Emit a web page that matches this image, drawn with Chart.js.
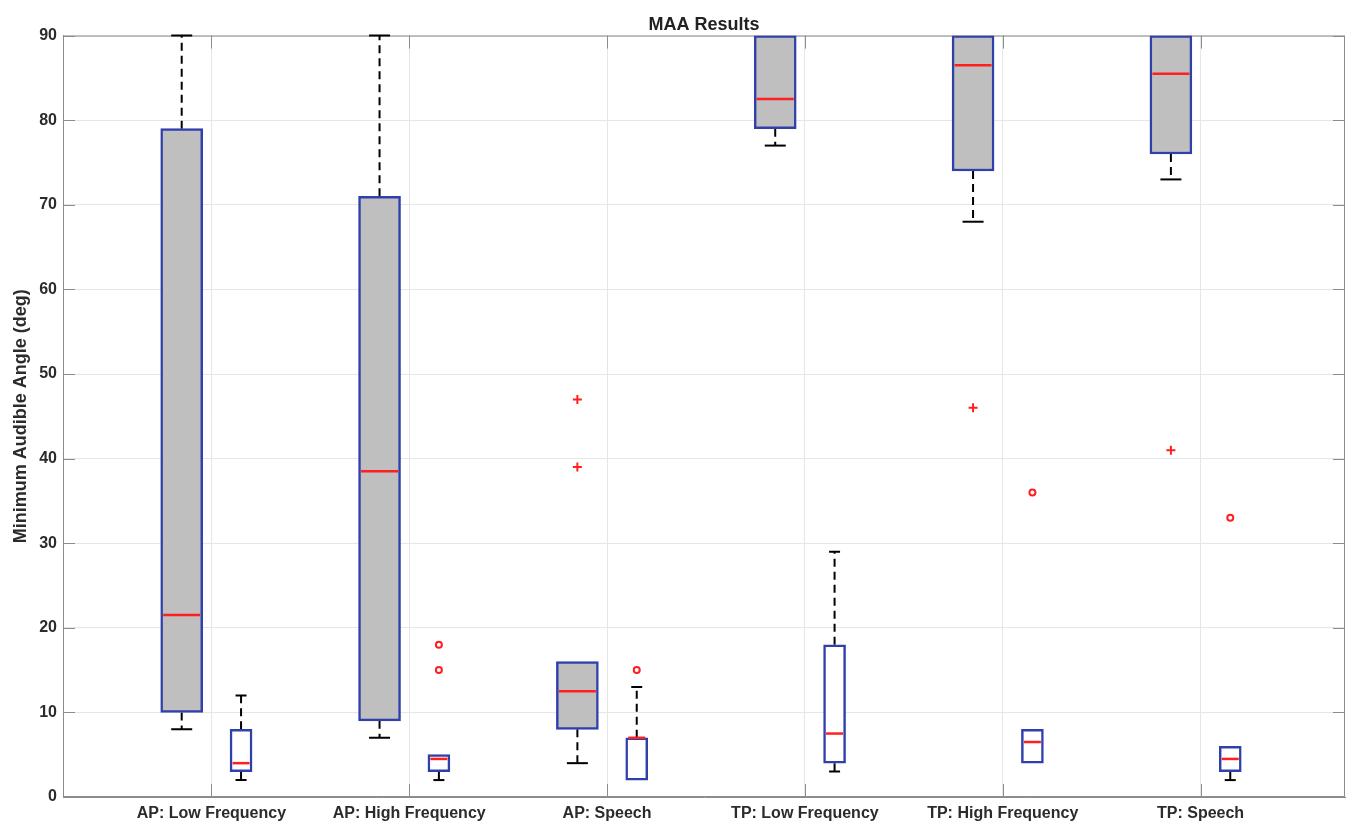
<!DOCTYPE html>
<html>
<head>
<meta charset="utf-8">
<title>MAA Results</title>
<script src="https://cdn.jsdelivr.net/npm/chart.js@4.4.1/dist/chart.umd.min.js"></script>
<style>
  body { margin: 0; background: #fff; }
  #wrap { width: 1357px; height: 829px; }
</style>
</head>
<body>
<div id="wrap"><canvas id="maa"></canvas></div>
<script>
// MAA results

const groupLabels = ['AP: Low Frequency', 'AP: High Frequency', 'AP: Speech',
                     'TP: Low Frequency', 'TP: High Frequency', 'TP: Speech'];

// grey (filled) boxes
const grayLow  = [8, 7, 4, 77, 68, 73];
const grayQ1   = [10, 9, 8, 79, 74, 76];
const grayMed  = [21.5, 38.5, 12.5, 82.5, 86.5, 85.5];
const grayQ3   = [79, 71, 16, 90, 90, 90];
const grayHigh = [90, 90, 16, 90, 90, 90];
const grayOutliers = [[], [], [47, 39], [], [46], [41]];

// white boxes
const whiteLow  = [2, 2, 2, 3, 4, 2];
const whiteQ1   = [3, 3, 2, 4, 4, 3];
const whiteMed  = [4, 4.5, 7, 7.5, 6.5, 4.5];
const whiteQ3   = [8, 5, 7, 18, 8, 6];
const whiteHigh = [12, 5, 13, 29, 8, 6];
const whiteOutliers = [[], [18, 15], [15], [], [36], [33]];

const yTicks = [0, 10, 20, 30, 40, 50, 60, 70, 80, 90];

const grayPos = groupLabels.map((l, i) => i + 1 - 0.15);
const whitePos = groupLabels.map((l, i) => i + 1 + 0.15);

const font = '"Liberation Sans", Arial, Helvetica, sans-serif';
const boxBlue = '#2f40ad';
const medRed = '#ff1f1f';
const axisGray = '#8c8c8c';

// whiskers, caps, medians and the matlab style frame
const boxParts = {
  id: 'boxParts',
  beforeDatasetsDraw(chart) {
    const { ctx, chartArea: a, scales: { x, y } } = chart;
    ctx.save();

    // frame + inward ticks
    ctx.strokeStyle = axisGray;
    ctx.lineWidth = 1;
    ctx.strokeRect(a.left + 0.5, a.top + 0.5, a.width - 1, a.height - 1);
    ctx.beginPath();
    yTicks.forEach(v => {
      const py = Math.round(y.getPixelForValue(v)) + 0.5;
      ctx.moveTo(a.left, py); ctx.lineTo(a.left + 12, py);
      ctx.moveTo(a.right, py); ctx.lineTo(a.right - 12, py);
    });
    groupLabels.forEach((l, i) => {
      const px = Math.round(x.getPixelForValue(i + 1)) + 0.5;
      ctx.moveTo(px, a.bottom); ctx.lineTo(px, a.bottom - 13);
      ctx.moveTo(px, a.top); ctx.lineTo(px, a.top + 13);
    });
    ctx.stroke();

    const sets = [
      [0, grayLow, grayQ1, grayQ3, grayHigh],
      [1, whiteLow, whiteQ1, whiteQ3, whiteHigh]
    ];
    ctx.strokeStyle = '#000';
    ctx.lineWidth = 2;
    sets.forEach(([di, low, q1, q3, high]) => {
      chart.getDatasetMeta(di).data.forEach((bar, i) => {
        const { x: bx, width: w } = bar.getProps(['x', 'width'], true);
        ctx.setLineDash([8, 5]);
        ctx.beginPath();
        ctx.moveTo(bx, y.getPixelForValue(q3[i]));
        ctx.lineTo(bx, y.getPixelForValue(high[i]));
        ctx.moveTo(bx, y.getPixelForValue(q1[i]));
        ctx.lineTo(bx, y.getPixelForValue(low[i]));
        ctx.stroke();
        ctx.setLineDash([]);
        ctx.beginPath();
        // caps sitting on the box edge are hidden by the box
        [[low[i], q1[i]], [high[i], q3[i]]].forEach(([v, edge]) => {
          if (v === edge) return;
          const py = y.getPixelForValue(v);
          ctx.moveTo(bx - w / 4, py);
          ctx.lineTo(bx + w / 4, py);
        });
        ctx.stroke();
      });
    });
    ctx.restore();
  },
  afterDatasetsDraw(chart) {
    const { ctx, scales: { y } } = chart;
    ctx.save();
    ctx.strokeStyle = medRed;
    ctx.lineWidth = 2.5;
    [[0, grayMed], [1, whiteMed]].forEach(([di, med]) => {
      chart.getDatasetMeta(di).data.forEach((bar, i) => {
        const { x: bx, width: w } = bar.getProps(['x', 'width'], true);
        const py = y.getPixelForValue(med[i]);
        ctx.beginPath();
        ctx.moveTo(bx - w / 2 + 2.5, py);
        ctx.lineTo(bx + w / 2 - 2.5, py);
        ctx.stroke();
      });
    });
    ctx.restore();
  }
};

new Chart(document.getElementById('maa'), {
  type: 'bar',
  data: {
    datasets: [
      {
        label: 'grey boxes',
        data: grayPos.map((p, i) => ({ x: p, y: [grayQ1[i], grayQ3[i]] })),
        backgroundColor: '#bfbfbf',
        borderColor: boxBlue,
        borderWidth: 2.5,
        borderSkipped: false,
        barThickness: 42,
        grouped: false
      },
      {
        label: 'white boxes',
        data: whitePos.map((p, i) => ({ x: p, y: [whiteQ1[i], whiteQ3[i]] })),
        backgroundColor: '#ffffff',
        borderColor: boxBlue,
        borderWidth: 2.5,
        borderSkipped: false,
        barThickness: 22,
        grouped: false
      },
      {
        type: 'scatter',
        label: 'grey outliers',
        data: grayOutliers.flatMap((vals, i) => vals.map(v => ({ x: grayPos[i], y: v }))),
        pointStyle: 'cross',
        radius: 4.5,
        borderWidth: 2,
        borderColor: medRed
      },
      {
        type: 'scatter',
        label: 'white outliers',
        data: whiteOutliers.flatMap((vals, i) => vals.map(v => ({ x: whitePos[i], y: v }))),
        pointStyle: 'circle',
        radius: 3,
        borderWidth: 2,
        borderColor: medRed,
        backgroundColor: '#ffffff'
      }
    ]
  },
  options: {
    responsive: true,
    maintainAspectRatio: false,
    animation: false,
    layout: { padding: { top: 0, right: 12, bottom: 0, left: 0 } },
    plugins: {
      legend: { display: false },
      tooltip: { enabled: false },
      title: {
        display: true,
        text: 'MAA Results',
        fullSize: false,
        color: '#222',
        font: { family: font, size: 18, weight: 'bold' },
        padding: { top: 14, bottom: 0 }
      }
    },
    scales: {
      x: {
        type: 'linear',
        min: 0.25,
        max: 6.73,
        offset: false,
        afterBuildTicks(s) { s.ticks = groupLabels.map((l, i) => ({ value: i + 1 })); },
        afterFit(s) { s.height = 32; },
        ticks: {
          autoSkip: false,
          maxRotation: 0,
          padding: 7,
          color: '#2b2b2b',
          font: { family: font, size: 16, weight: 'bold' },
          callback: v => groupLabels[v - 1] || ''
        },
        grid: { color: '#e6e6e6', drawTicks: false, offset: false },
        border: { color: axisGray }
      },
      y: {
        min: 0,
        max: 90,
        afterBuildTicks(s) { s.ticks = yTicks.map(v => ({ value: v })); },
        afterFit(s) { s.width = 63; },
        ticks: {
          padding: 6,
          color: '#2b2b2b',
          font: { family: font, size: 16, weight: 'bold' }
        },
        grid: { color: '#e6e6e6', drawTicks: false },
        border: { color: axisGray },
        title: {
          display: true,
          text: 'Minimum Audible Angle (deg)',
          color: '#2b2b2b',
          font: { family: font, size: 18, weight: 'bold' },
          padding: { top: 10, bottom: 0 }
        }
      }
    }
  },
  plugins: [boxParts]
});
</script>
</body>
</html>
